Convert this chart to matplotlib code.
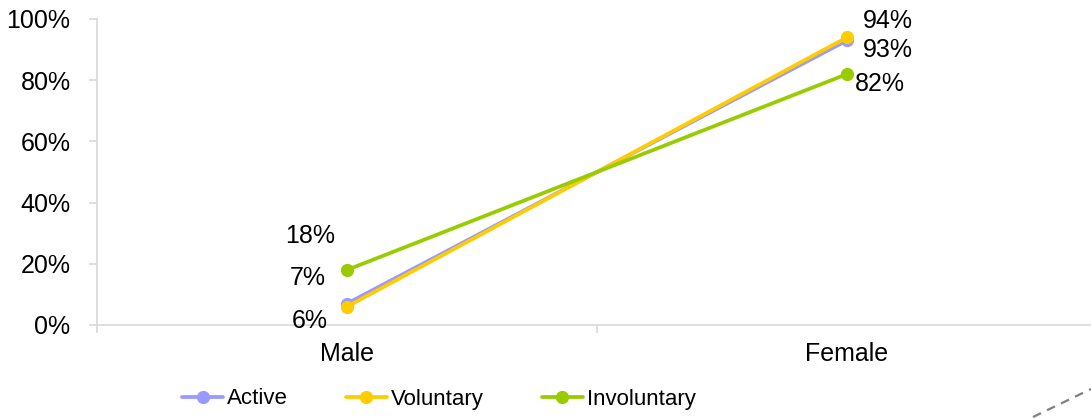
import matplotlib
matplotlib.use("Agg")
import matplotlib.pyplot as plt
from matplotlib.lines import Line2D
from matplotlib.ticker import FuncFormatter

# gender split per employee group
categories = ["Male", "Female"]
series_names = ["Active", "Voluntary", "Involuntary"]
active = [0.07, 0.93]
voluntary = [0.06, 0.94]
involuntary = [0.18, 0.82]
colors = ["#9999FF", "#FFCC00", "#99CC00"]

plt.rcParams["font.family"] = ["Liberation Sans", "DejaVu Sans"]

fig = plt.figure(figsize=(10.91, 4.18), dpi=100)
ax = fig.add_axes([97 / 1091, 93 / 418, 1000 / 1091, 306 / 418])

x = list(range(len(categories)))
all_series = [active, voluntary, involuntary]
for name, vals, c in zip(series_names, all_series, colors):
    ax.plot(x, vals, color=c, lw=2.7, marker="o", ms=8.5, label=name,
            solid_capstyle="round")

# data labels (offsets in pixels, per point)
offsets = {
    "Active": [(-39, 26), (41, -10)],
    "Voluntary": [(-37, -14), (41, 16)],
    "Involuntary": [(-37, 34), (33, -10)],
}
for name, vals in zip(series_names, all_series):
    for i, v in enumerate(vals):
        dx, dy = offsets[name][i]
        ax.annotate(f"{v * 100:.0f}%", (x[i], v), xytext=(dx, dy),
                    textcoords="offset pixels", ha="center", va="center",
                    fontsize=18, color="black")

ax.set_xlim(-0.5, 1.5)
ax.set_ylim(0, 1.0)
ax.set_yticks([0, 0.2, 0.4, 0.6, 0.8, 1.0])
ax.yaxis.set_major_formatter(FuncFormatter(lambda v, p: f"{v * 100:.0f}%"))
ax.set_xticks(x)
ax.set_xticklabels(categories)
ax.set_xticks([-0.5, 0.5, 1.5], minor=True)

for s in ["top", "right"]:
    ax.spines[s].set_visible(False)
for s in ["left", "bottom"]:
    ax.spines[s].set_color("#D9D9D9")
    ax.spines[s].set_linewidth(1.2)

ax.tick_params(axis="y", colors="#D9D9D9", labelcolor="black", labelsize=18,
               length=6, width=1.2, pad=13)
ax.tick_params(axis="x", which="major", length=0, labelsize=18, labelcolor="black", pad=12)
ax.tick_params(axis="x", which="minor", colors="#D9D9D9", length=6, width=1.2)

fig.legend(loc="center left", bbox_to_anchor=(182 / 1091, 1 - 399 / 418), ncol=3,
           frameon=False, fontsize=16, handlelength=1.85, handletextpad=0.18,
           columnspacing=2.6, borderpad=0, borderaxespad=0)

# dashed connector in the bottom right corner
fig.add_artist(Line2D([1033 / 1091, 1.0], [1 - 417 / 418, 1 - 389 / 418],
                      transform=fig.transFigure, color="#808080", lw=1.6,
                      ls=(0, (4, 3))))

fig.savefig("out.png", dpi=100)
